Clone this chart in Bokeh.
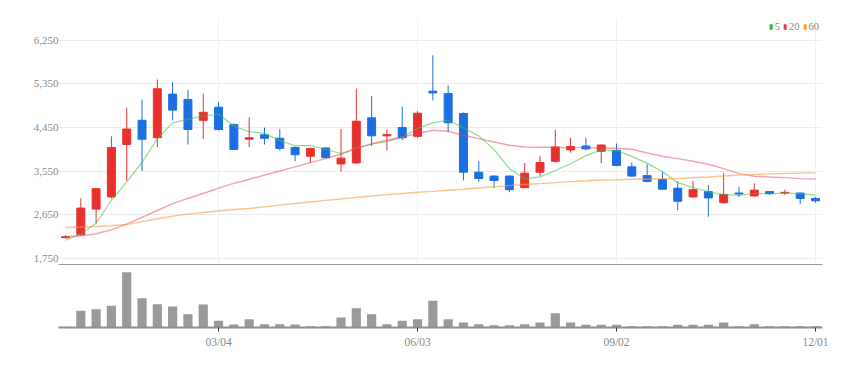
from bokeh.plotting import figure
from bokeh.layouts import column
from bokeh.models import (Range1d, FixedTicker, NumeralTickFormatter, Legend, LegendItem,
                          ColumnDataSource)
from bokeh.embed import file_html
from bokeh.resources import INLINE

# ---- data (weekly candles) ----
open_ = [2180, 2240, 2770, 3020, 4100, 4600, 4240, 5140, 5030, 4600,
         4870, 4510, 4210, 4300, 4230, 4040, 3860, 4030, 3700, 3720,
         4650, 4280, 4450, 4270, 5200, 5150, 4740, 3530, 3450, 3450,
         3210, 3530, 3755, 3990, 4070, 3960, 3980, 3640, 3460, 3380,
         3200, 3020, 3130, 2900, 3100, 3040, 3130, 3100, 3100, 2990]
high = [2230, 2990, 3200, 4270, 4860, 5030, 5440, 5390, 5230, 5150,
        4980, 4540, 4660, 4450, 4420, 4060, 4040, 4040, 4420, 5250,
        5100, 4410, 4880, 4790, 5940, 5320, 4760, 3760, 3460, 3460,
        3720, 3860, 4410, 4240, 4240, 4100, 4120, 3730, 3690, 3530,
        3340, 3350, 3270, 3510, 3230, 3300, 3140, 3170, 3110, 3020]
low = [2160, 2220, 2470, 2990, 3350, 3550, 4050, 4600, 4100, 4215,
       4390, 3990, 4050, 4100, 3980, 3755, 3720, 3810, 3540, 3700,
       4070, 3980, 4190, 4230, 5010, 4360, 3360, 3330, 3200, 3120,
       3200, 3450, 3730, 3930, 3980, 3710, 3650, 3430, 3320, 3170,
       2745, 3010, 2610, 2880, 3020, 3030, 3060, 3060, 2880, 2900]
close = [2200, 2790, 3190, 4040, 4420, 4210, 5250, 4810, 4410, 4765,
         4410, 4000, 4240, 4230, 4020, 3890, 4020, 3830, 3820, 4580,
         4280, 4310, 4240, 4745, 5165, 4550, 3530, 3400, 3360, 3170,
         3510, 3730, 4050, 4060, 4010, 4090, 3670, 3450, 3340, 3180,
         2930, 3170, 3000, 3070, 3080, 3160, 3090, 3115, 2990, 2940]
ma5 = [2126, 2250, 2477, 2951, 3328, 3730, 4222, 4546, 4620, 4689,
       4729, 4479, 4365, 4329, 4180, 4076, 4080, 3998, 3916, 4028,
       4106, 4164, 4246, 4431, 4548, 4602, 4446, 4278, 4001, 3602,
       3394, 3434, 3564, 3704, 3872, 3988, 3976, 3856, 3712, 3546,
       3314, 3214, 3124, 3070, 3050, 3096, 3080, 3103, 3087, 3059]
ma20 = [2200, 2220, 2260, 2340, 2460, 2600, 2740, 2880, 2990, 3090,
        3200, 3300, 3384, 3470, 3555, 3640, 3728, 3810, 3899, 4017,
        4120, 4188, 4256, 4326, 4394, 4374, 4291, 4223, 4153, 4085,
        4050, 4044, 4044, 4037, 4037, 4030, 4023, 4003, 3926, 3858,
        3810, 3755, 3693, 3604, 3501, 3446, 3432, 3418, 3398, 3391]
ma60 = [2390, 2400, 2410, 2425, 2450, 2510, 2570, 2625, 2665, 2700,
        2730, 2760, 2780, 2815, 2850, 2883, 2915, 2948, 2978, 3010,
        3040, 3068, 3092, 3116, 3135, 3158, 3178, 3205, 3230, 3254,
        3275, 3295, 3315, 3335, 3352, 3370, 3375, 3383, 3390, 3395,
        3400, 3415, 3430, 3450, 3470, 3485, 3495, 3503, 3510, 3515]
volume = [500, 16700, 18300, 21700, 55300, 29300, 23300, 21000, 13300, 23000,
          6700, 3000, 8300, 3300, 3300, 3000, 1300, 1300, 10000, 19300,
          13300, 3300, 6700, 8300, 26700, 8300, 5000, 3300, 2300, 2300,
          3300, 5000, 14300, 5000, 2700, 2700, 2700, 1300, 1300, 1300,
          2700, 2700, 2700, 5000, 1300, 3300, 1300, 1300, 1300, 1300]
tick_idx = [10, 23, 36, 49]
tick_labels = ["03/04", "06/03", "09/02", "12/01"]
y_ticks = [1750, 2650, 3550, 4450, 5350, 6250]
ma_labels = ["5", "20", "60"]
ma_colors = ["#22bb22", "#ee3344", "#ff9922"]

UP = "#e8312f"
DOWN = "#1c6fe3"
FONT = "Liberation Sans Narrow"

x = list(range(len(close)))
color = [UP if c >= o else DOWN for o, c in zip(open_, close)]
src = ColumnDataSource(dict(x=x, open=open_, high=high, low=low, close=close,
                            top=[max(o, c) for o, c in zip(open_, close)],
                            bottom=[min(o, c) for o, c in zip(open_, close)],
                            color=color, ma5=ma5, ma20=ma20, ma60=ma60, vol=volume))

xr = Range1d(-0.457, 49.457)

p = figure(frame_width=764, frame_height=247, x_range=xr, y_range=Range1d(1606, 6699),
           output_backend="svg", toolbar_location=None,
           min_border_left=58, min_border_right=26, min_border_top=18, min_border_bottom=0)
p.outline_line_color = None
p.background_fill_color = "white"

p.segment(x0="x", y0="low", x1="x", y1="high", color="color", line_width=1, source=src)
p.vbar(x="x", width=0.52, top="top", bottom="bottom", fill_color="color", line_color="color",
       line_width=1, source=src)

p.line("x", "ma5", source=src, color="#3fc43f", alpha=0.6, line_width=1.2)
p.line("x", "ma20", source=src, color="#ee4455", alpha=0.5, line_width=1.4)
p.line("x", "ma60", source=src, color="#ff9a3c", alpha=0.6, line_width=1.4)

# legend swatches: zero-area bars (draw nothing on the chart, a filled box in the legend)
items = []
for lab, col in zip(ma_labels, ma_colors):
    r = p.vbar(x="x", width=0, top="low", bottom="low", fill_color=col, line_color=None,
               source=src)
    items.append(LegendItem(label=lab, renderers=[r]))
legend = Legend(items=items, orientation="horizontal", location="top_right",
                glyph_width=4, glyph_height=7, label_standoff=2, spacing=3,
                padding=0, margin=3, border_line_color=None, background_fill_alpha=0,
                label_text_font_size="10.5px", label_text_color="#888888",
                label_text_font=FONT, label_height=10, label_width=4)
p.add_layout(legend)

p.yaxis.ticker = FixedTicker(ticks=y_ticks)
p.yaxis.formatter = NumeralTickFormatter(format="0,0")
p.yaxis.axis_line_color = None
p.yaxis.major_tick_line_color = None
p.yaxis.minor_tick_line_color = None
p.yaxis.major_tick_out = 0
p.yaxis.major_tick_in = 0
p.yaxis.major_label_standoff = 0
p.yaxis.major_label_text_font_size = "11px"
p.yaxis.major_label_text_color = "#888888"
p.yaxis.major_label_text_font = FONT

# main panel's bottom axis: only the dark separator line, no ticks / labels
p.xaxis.ticker = FixedTicker(ticks=[])
p.xaxis.axis_line_color = "#333333"
p.xaxis.axis_line_width = 2
p.xaxis.major_tick_line_color = None
p.xaxis.minor_tick_line_color = None
p.xaxis.major_label_standoff = 0
p.xaxis.major_tick_out = 0
p.xaxis.major_tick_in = 0

p.ygrid.grid_line_color = "#ececec"
p.xgrid.ticker = FixedTicker(ticks=tick_idx)
p.xgrid.grid_line_color = "#f1f1f1"

v = figure(frame_width=764, frame_height=60, x_range=xr, y_range=Range1d(0, 60000),
           output_backend="svg", toolbar_location=None,
           min_border_left=58, min_border_right=26, min_border_top=2, min_border_bottom=4)
v.outline_line_color = None
v.vbar(x="x", width=0.6, top="vol", bottom=0, fill_color="#9a9a9a", line_color=None, source=src)
v.yaxis.visible = False
v.ygrid.grid_line_color = None
v.xgrid.grid_line_color = None
v.xaxis.ticker = FixedTicker(ticks=tick_idx)
v.xaxis.major_label_overrides = {i: s for i, s in zip(tick_idx, tick_labels)}
v.xaxis.axis_line_color = "#8f8f8f"
v.xaxis.axis_line_width = 2
v.xaxis.major_tick_line_color = "#333333"
v.xaxis.major_tick_out = 4
v.xaxis.major_tick_in = 0
v.xaxis.minor_tick_line_color = None
v.xaxis.major_label_standoff = 4
v.xaxis.major_label_text_font_size = "11.5px"
v.xaxis.major_label_text_color = "#888888"
v.xaxis.major_label_text_font = FONT

layout = column(p, v)
open("out.html", "w").write(file_html(layout, INLINE))
